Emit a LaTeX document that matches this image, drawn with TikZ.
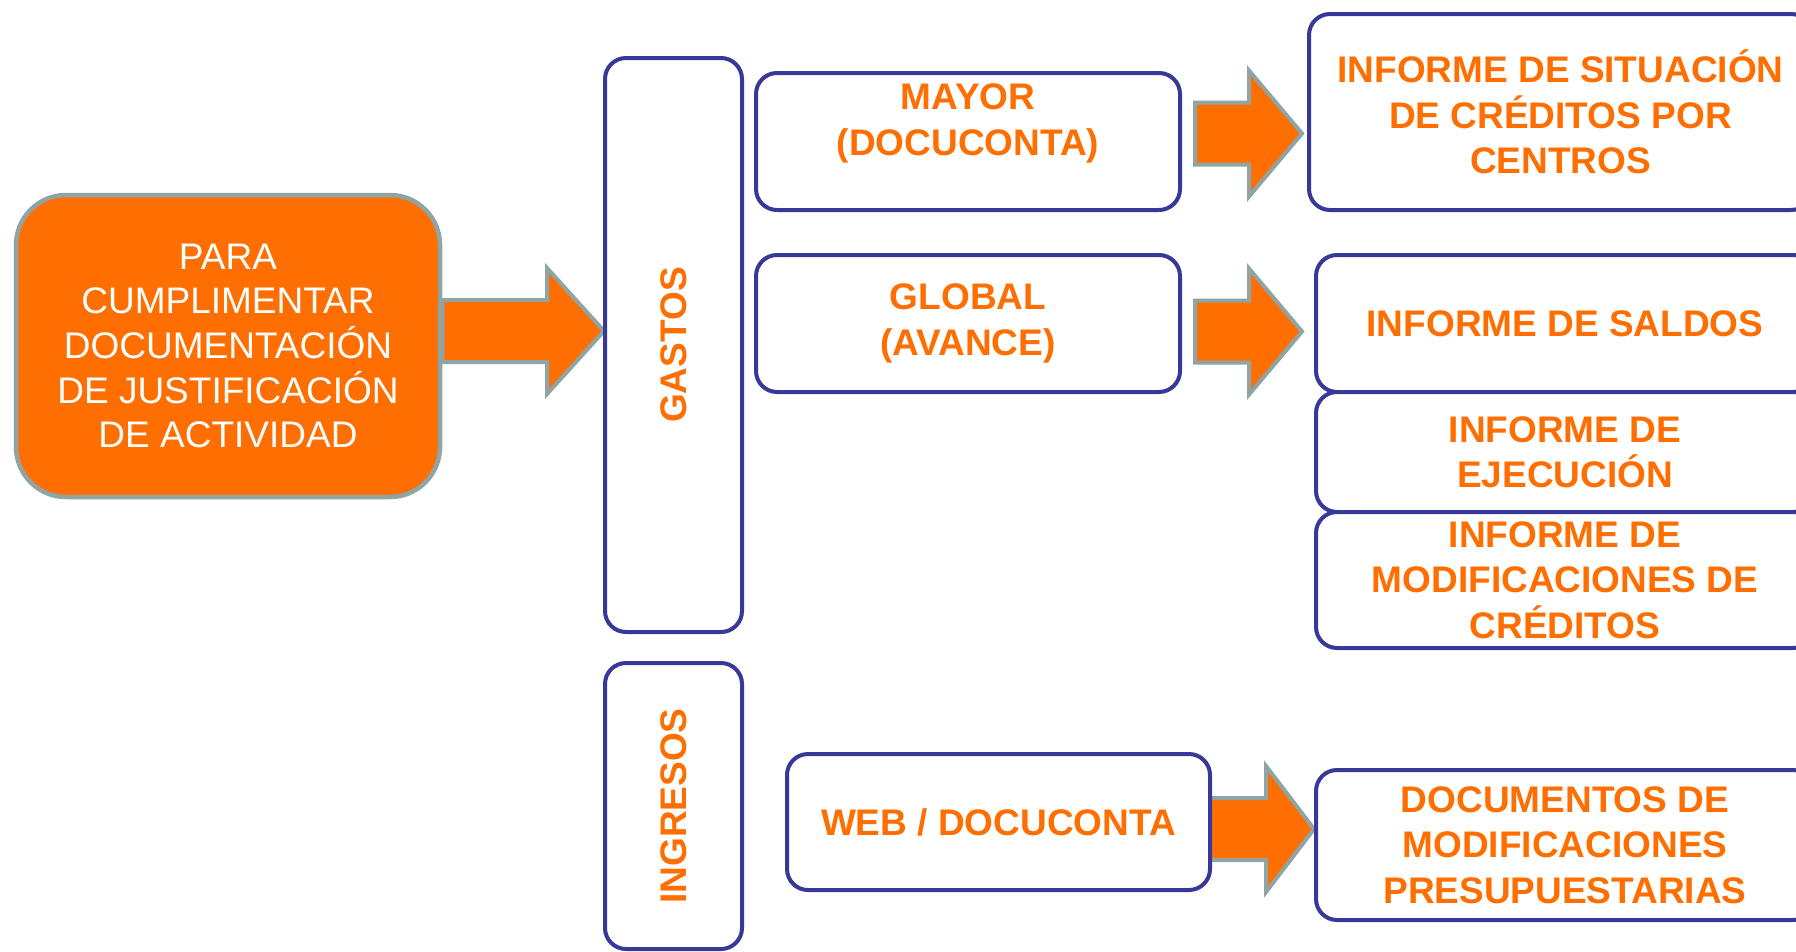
\documentclass[tikz,border=0pt]{standalone}
\usepackage{fontspec}
\setmainfont{Liberation Sans}
\definecolor{ddorange}{HTML}{FF6E00}
\definecolor{ddnavy}{HTML}{38389A}
\definecolor{ddgray}{HTML}{8FA4A4}
\usetikzlibrary{calc, positioning, backgrounds}
\tikzset{
	srcbox/.style={draw=ddgray, fill=ddorange, line width=4.5pt, rounded corners=50pt,
		align=center, text=white, font=\fontsize{37}{44.7}\selectfont, inner sep=0pt},
	infobox/.style={draw=ddnavy, fill=white, line width=4pt, rounded corners=21pt, outer sep=0pt,
		align=center, text=ddorange, font=\bfseries\fontsize{37}{45.3}\selectfont, inner sep=0pt},
	boxtext/.style={align=center, text=ddorange, font=\bfseries\fontsize{37}{45.3}\selectfont, inner sep=0pt},
	cattext/.style={boxtext, rotate=90},
	barrow/.style={draw=ddgray, fill=ddorange, line width=4pt, line join=miter}
}
% block arrow: tail point, tip point, head length
\newcommand{\blockarrow}[3]{%
	\draw[barrow] let \p1=(#1), \p2=(#2) in
		(\x1,\y2+31pt) -- (\x2-#3,\y2+31pt) -- (\x2-#3,\y2+63pt) -- (\x2,\y2)
		-- (\x2-#3,\y2-63pt) -- (\x2-#3,\y2-31pt) -- (\x1,\y2-31pt) -- cycle;}

\begin{document}
\begin{tikzpicture}[x=1pt, y=-1pt]
	\useasboundingbox (0,0) rectangle (1796,951);
	\clip (0,0) rectangle (1796,951);

	\node[srcbox, minimum width=424pt, minimum height=302pt] (main) at (228,346)
		{PARA\\CUMPLIMENTAR\\DOCUMENTACIÓN\\DE JUSTIFICACIÓN\\DE ACTIVIDAD};

	\node[infobox, minimum width=137pt, minimum height=574pt,
		label={[cattext]center:GASTOS}] (gastos) at (673.5,345) {};
	\node[infobox, minimum width=137pt, minimum height=286pt,
		label={[cattext]center:INGRESOS}] (ingresos) at (673.5,806) {};

	\node[infobox, minimum width=424pt, minimum height=137pt,
		label={[boxtext, yshift=18pt]center:MAYOR\\(DOCUCONTA)}] (mayor) at (968,141.5) {};
	\node[infobox, minimum width=424pt, minimum height=137pt] (global) at (968,323.5)
		{GLOBAL\\(AVANCE)};
	\node[infobox, minimum width=423pt, minimum height=136pt] (web) at (998.5,822)
		{WEB / DOCUCONTA};

	\node[infobox, minimum width=503pt, minimum height=196pt] (sitcred) at (1560.5,112)
		{INFORME DE SITUACIÓN\\DE CRÉDITOS POR\\CENTROS};
	\node[infobox, minimum width=498pt, minimum height=137pt] (saldos) at (1565,323.5)
		{INFORME DE SALDOS};
	\node[infobox, minimum width=498pt, minimum height=120pt, below=0pt of saldos] (ejec)
		{INFORME DE\\EJECUCIÓN};
	\node[infobox, minimum width=498pt, minimum height=136pt, below=0pt of ejec] (modif)
		{INFORME DE\\MODIFICACIONES DE\\CRÉDITOS};
	\node[infobox, minimum width=498pt, minimum height=150pt] (docs) at (1565,845)
		{DOCUMENTOS DE\\MODIFICACIONES\\PRESUPUESTARIAS};

	\begin{scope}[on background layer]
		\blockarrow{main.east}{$(gastos.west |- main.east)+(-1,-15)$}{57pt}
		\blockarrow{$(mayor.east)+(15,0)$}{$(sitcred.west |- mayor.east)+(-7,-8)$}{53pt}
		\blockarrow{$(global.east)+(15,0)$}{$(saldos.west |- global.east)+(-14,8)$}{53pt}
		\blockarrow{web.east}{$(docs.west |- web.east)+(-2,7)$}{48pt}
	\end{scope}
\end{tikzpicture}
\end{document}
